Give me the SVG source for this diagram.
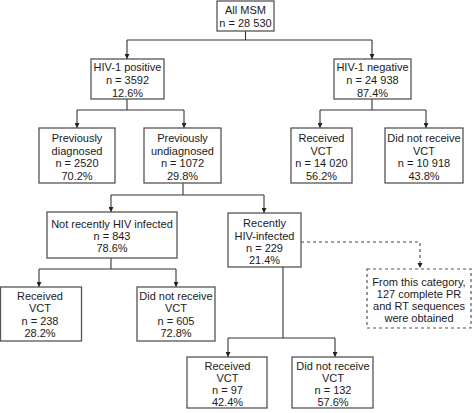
<svg xmlns="http://www.w3.org/2000/svg" width="474" height="413" viewBox="0 0 474 413">
<defs>
<marker id="ah" viewBox="0 0 8 8" refX="8" refY="4" markerWidth="5" markerHeight="5" orient="auto" markerUnits="userSpaceOnUse">
<path d="M0,0 L8,4 L0,8 z" fill="#222"/>
</marker>
<style>
.box{fill:#fff;stroke:#555;stroke-width:1.3}
.dbox{fill:#fff;stroke:#555;stroke-width:1.2;stroke-dasharray:3,3}
.ln{fill:none;stroke:#333;stroke-width:1.1}
.arr{fill:none;stroke:#333;stroke-width:1.1;marker-end:url(#ah)}
.dash{fill:none;stroke:#444;stroke-width:1.1;stroke-dasharray:3,3}
text{font-family:"Liberation Sans",Arial,sans-serif;font-size:11px;fill:#1a1a1a;text-anchor:middle}
</style>
</defs>
<rect width="474" height="413" fill="#fff"/>
<g id="connectors">
<path class="ln" d="M245.5,31 V40 M127,40 H372"/>
<path class="arr" d="M127,40 V59"/>
<path class="arr" d="M372,40 V59"/>
<path class="ln" d="M127,99 V110 M77,110 H184"/>
<path class="arr" d="M77,110 V128"/>
<path class="arr" d="M184,110 V128"/>
<path class="ln" d="M372,99 V110 M320,110 H426"/>
<path class="arr" d="M320,110 V128"/>
<path class="arr" d="M426,110 V128"/>
<path class="ln" d="M183,183 V195 M111,195 H264"/>
<path class="arr" d="M111,195 V212"/>
<path class="arr" d="M264,195 V213"/>
<path class="ln" d="M111,258 V269 M39,269 H176"/>
<path class="arr" d="M39,269 V287"/>
<path class="arr" d="M176,269 V287"/>
<path class="ln" d="M283,267 V338 M228,338 H335"/>
<path class="arr" d="M228,338 V357"/>
<path class="arr" d="M335,338 V357"/>
<path class="dash" d="M301,242 H420 V264"/>
<path d="M417.5,263 L420,268 L422.5,263 z" fill="#222"/>
</g>
<g id="all-msm">
<rect class="box" x="217" y="1" width="57" height="30"/>
<text x="245.5" y="14">All MSM</text>
<text x="245.5" y="27">n = 28 530</text>
</g>
<g id="hiv-positive">
<rect class="box" x="91" y="59" width="73" height="40"/>
<text x="127.5" y="71">HIV-1 positive</text>
<text x="127.5" y="84">n = 3592</text>
<text x="127.5" y="97">12.6%</text>
</g>
<g id="hiv-negative">
<rect class="box" x="334" y="59" width="77" height="40"/>
<text x="372.5" y="71">HIV-1 negative</text>
<text x="372.5" y="84">n = 24 938</text>
<text x="372.5" y="97">87.4%</text>
</g>
<g id="prev-diagnosed">
<rect class="box" x="39" y="128" width="76" height="55"/>
<text x="77" y="142">Previously</text>
<text x="77" y="155">diagnosed</text>
<text x="77" y="167">n = 2520</text>
<text x="77" y="180">70.2%</text>
</g>
<g id="prev-undiagnosed">
<rect class="box" x="144" y="128" width="77" height="55"/>
<text x="182.5" y="142">Previously</text>
<text x="182.5" y="155">undiagnosed</text>
<text x="182.5" y="167">n = 1072</text>
<text x="182.5" y="180">29.8%</text>
</g>
<g id="neg-received">
<rect class="box" x="291" y="128" width="61" height="55"/>
<text x="321.5" y="142">Received</text>
<text x="321.5" y="155">VCT</text>
<text x="321.5" y="167">n = 14 020</text>
<text x="321.5" y="180">56.2%</text>
</g>
<g id="neg-not-received">
<rect class="box" x="385" y="128" width="78" height="55"/>
<text x="424" y="142">Did not receive</text>
<text x="424" y="155">VCT</text>
<text x="424" y="167">n = 10 918</text>
<text x="424" y="180">43.8%</text>
</g>
<g id="not-recent">
<rect class="box" x="47" y="212" width="130" height="46"/>
<text x="112" y="228">Not recently HIV infected</text>
<text x="112" y="240">n = 843</text>
<text x="112" y="252">78.6%</text>
</g>
<g id="recent">
<rect class="box" x="228" y="213" width="73" height="54"/>
<text x="264.5" y="227">Recently</text>
<text x="264.5" y="240">HIV-infected</text>
<text x="264.5" y="252">n = 229</text>
<text x="264.5" y="264">21.4%</text>
</g>
<g id="sequences-note">
<rect class="dbox" x="367" y="269" width="104" height="59"/>
<text x="419" y="286">From this category,</text>
<text x="419" y="298">127 complete PR</text>
<text x="419" y="310">and RT sequences</text>
<text x="419" y="322">were obtained</text>
</g>
<g id="nr-received">
<rect class="box" x="0.5" y="287" width="81" height="54"/>
<text x="40" y="300">Received</text>
<text x="40" y="312">VCT</text>
<text x="40" y="325">n = 238</text>
<text x="40" y="337">28.2%</text>
</g>
<g id="nr-not-received">
<rect class="box" x="137" y="287" width="78" height="54"/>
<text x="176" y="300">Did not receive</text>
<text x="176" y="312">VCT</text>
<text x="176" y="325">n = 605</text>
<text x="176" y="337">72.8%</text>
</g>
<g id="r-received">
<rect class="box" x="187" y="357" width="80" height="51"/>
<text x="227.5" y="370">Received</text>
<text x="227.5" y="382">VCT</text>
<text x="227.5" y="394">n = 97</text>
<text x="227.5" y="406">42.4%</text>
</g>
<g id="r-not-received">
<rect class="box" x="292" y="357" width="81" height="51"/>
<text x="333" y="370">Did not receive</text>
<text x="333" y="382">VCT</text>
<text x="333" y="394">n = 132</text>
<text x="333" y="406">57.6%</text>
</g>
</svg>
